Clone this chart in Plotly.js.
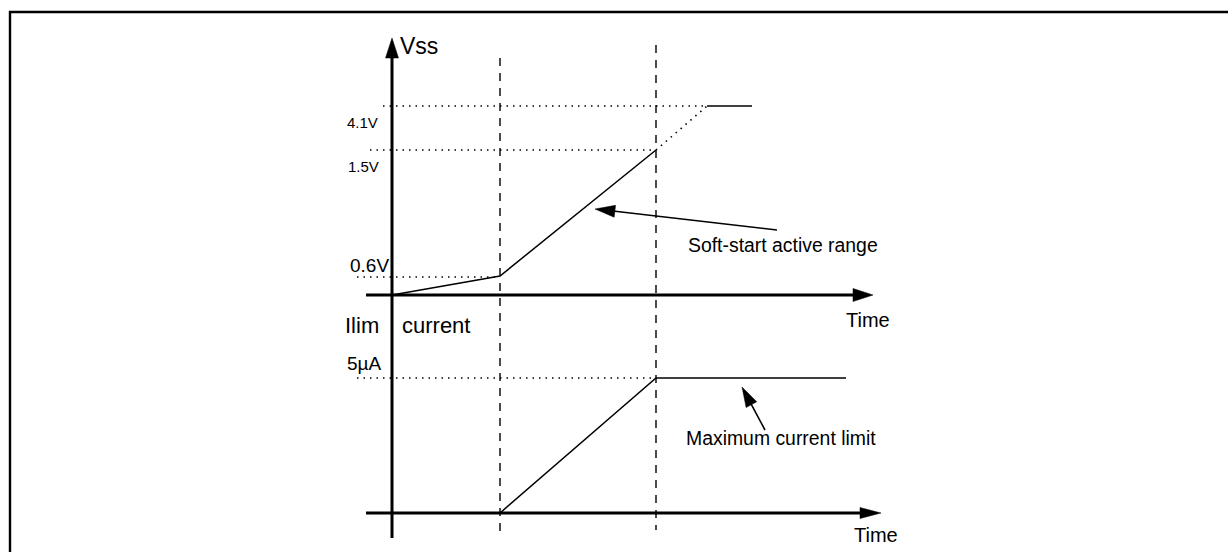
<!DOCTYPE html>
<html>
<head>
<meta charset="utf-8">
<script src="https://cdn.plot.ly/plotly-3.0.1.min.js"></script>
<style>html,body{margin:0;padding:0;background:#fff}#chart{width:1228px;height:552px}</style>
</head>
<body>
<div id="chart"></div>
<script>
// Diagram coordinates (x: time position, y: level position, in drawing units)
const eventX = [500, 656];                 // dashed event markers
const eventTop = [58, 45];
const eventBottom = [532, 530];

const vssX = [392, 500, 656];              // soft-start Vss ramp
const vssY = [295, 276, 150];
const vssDotX = [656, 707];
const vssDotY = [150, 106];
const vssFlatX = [707, 752];
const vssFlatY = [106, 106];

const curX = [500, 656, 846];              // Ilim current ramp
const curY = [513, 378, 378];

const levelLabels = ['4.1V', '1.5V', '0.6V', '5\u00b5A'];
const levelY = [106, 150, 277, 378];
const levelStart = [383, 370, 357, 357];
const levelEnd = [707, 656, 500, 656];

const axisOriginX = 392;
const upperAxisY = 295;
const lowerAxisY = 513;

const FONT = 'Arial, "Liberation Sans", sans-serif';
const traces = [];
function line(x, y, w, dash) {
  traces.push({x: x, y: y, mode: 'lines', type: 'scatter', hoverinfo: 'skip', showlegend: false,
    line: {color: '#000', width: w, dash: dash || 'solid'}});
}
function head(tip, tail, len, half) {
  const dx = tip[0] - tail[0], dy = tip[1] - tail[1];
  const d = Math.hypot(dx, dy), ux = dx / d, uy = dy / d;
  const bx = tip[0] - ux * len, by = tip[1] - uy * len;
  traces.push({x: [tip[0], bx - uy * half, bx + uy * half, tip[0]],
    y: [tip[1], by + ux * half, by - ux * half, tip[1]],
    mode: 'lines', fill: 'toself', fillcolor: '#000', type: 'scatter', hoverinfo: 'skip', showlegend: false,
    line: {color: '#000', width: 0.5}});
}
function arrow(tip, tail, w, len, half) {
  const dx = tip[0] - tail[0], dy = tip[1] - tail[1];
  const d = Math.hypot(dx, dy);
  const ex = tip[0] - dx / d * (len - 2), ey = tip[1] - dy / d * (len - 2);
  line([tail[0], ex], [tail[1], ey], w);
  head(tip, tail, len, half);
}

// frame
line([9, 1228], [12, 12], 2.4);
line([10, 10], [11, 552], 2.4);

// dotted level guides
for (let i = 0; i < levelY.length; i++) {
  line([levelStart[i], levelEnd[i]], [levelY[i], levelY[i]], 1.3, '1.5px,5px');
}
// dashed event lines
for (let i = 0; i < eventX.length; i++) {
  line([eventX[i], eventX[i]], [eventTop[i], eventBottom[i]], 1.4, '8px,7px');
}

// axes
arrow([axisOriginX, 38], [axisOriginX, 538], 3, 20, 6.5);
arrow([873, upperAxisY], [366, upperAxisY], 3, 20, 6.5);
arrow([881, lowerAxisY], [366, lowerAxisY], 3, 21, 5.5);

// waveforms
line(vssX, vssY, 1.5);
line(vssDotX, vssDotY, 1.6, '1.5px,5px');
line(vssFlatX, vssFlatY, 1.5);
line(curX, curY, 1.5);

// callout arrows
arrow([595, 209], [777, 230], 1.6, 20, 6);
arrow([742, 387], [765, 430], 1.6, 20, 6);

function txt(t, x, y, size) {
  return {text: t, x: x, y: y, xref: 'x', yref: 'y', xanchor: 'left', yanchor: 'middle',
    showarrow: false, font: {family: FONT, size: size, color: '#000'}};
}
const annotations = [
  txt('Vss', 398, 46, 23),
  txt(levelLabels[0], 345, 122, 15),
  txt(levelLabels[1], 346, 166, 15),
  txt(levelLabels[2], 348, 265, 19),
  txt(levelLabels[3], 345, 363, 19),
  txt('Ilim', 343, 325, 22),
  txt('current', 400, 325, 22),
  txt('Time', 844, 320, 20),
  txt('Time', 852, 535, 20),
  txt('Soft-start active range', 686, 245, 19.4),
  txt('Maximum current limit', 684, 438, 19.4)
];

Plotly.newPlot('chart', traces, {
  width: 1228, height: 552,
  margin: {l: 0, r: 0, t: 0, b: 0},
  paper_bgcolor: '#fff', plot_bgcolor: '#fff',
  xaxis: {range: [0, 1228], visible: false, fixedrange: true},
  yaxis: {range: [552, 0], visible: false, fixedrange: true},
  annotations: annotations,
  showlegend: false
}, {staticPlot: true});
</script>
</body>
</html>
